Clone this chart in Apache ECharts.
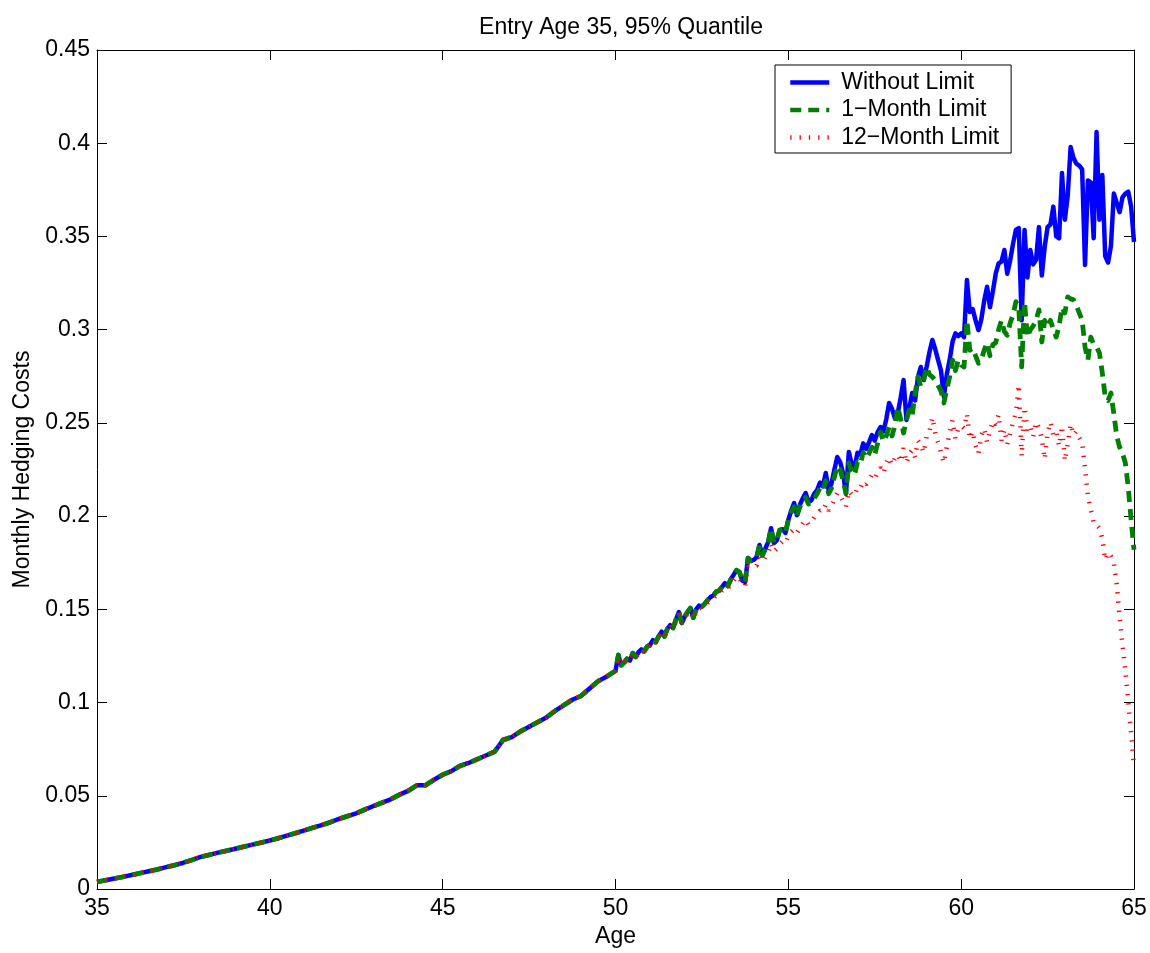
<!DOCTYPE html>
<html>
<head>
<meta charset="utf-8">
<script src="https://cdn.jsdelivr.net/npm/echarts@6/dist/echarts.min.js"></script>
<style>
  html, body { margin: 0; padding: 0; background: #fff; }
  #chart { width: 1150px; height: 953px; }
</style>
</head>
<body>
<div id="chart"></div>
<script>
// ---------------- DATA ----------------
const titleText = 'Entry Age 35, 95% Quantile';
const xAxisName = 'Age';
const yAxisName = 'Monthly Hedging Costs';
const seriesNames = ['Without Limit', '1\u2212Month Limit', '12\u2212Month Limit'];

// Common curve, quarterly, ages 35.00 .. 50.00 (all three series coincide)
const earlyStartAge = 35;
const earlyStep = 0.25;
const earlyValues = [
  0.0038, 0.0047, 0.0056, 0.0065, 0.0075, 0.0085, 0.0095, 0.0105,
  0.0117, 0.0128, 0.0141, 0.0156, 0.0172, 0.0183, 0.0195, 0.0205,
  0.0216, 0.0227, 0.0238, 0.0249, 0.0260, 0.0273, 0.0286, 0.0300,
  0.0314, 0.0329, 0.0343, 0.0358, 0.0376, 0.0391, 0.0406, 0.0426,
  0.0445, 0.0463, 0.0481, 0.0506, 0.0526, 0.0556, 0.0556, 0.0586,
  0.0613, 0.0632, 0.0660, 0.0676, 0.0696, 0.0716, 0.0736, 0.0800,
  0.0815, 0.0845, 0.0870, 0.0895, 0.0920, 0.0955, 0.0985, 0.1015,
  0.1035, 0.1075, 0.1115, 0.1140, 0.1170
];

// Monthly, ages 50+1/12 .. 55.0 (Without Limit and 1-Month Limit coincide)
const midStartAge = 50 + 1 / 12;
const monthStep = 1 / 12;
const midValues = [
  0.1255, 0.120, 0.1215, 0.1235, 0.1225, 0.1265, 0.1245, 0.127, 0.1285, 0.1275, 0.130, 0.131,
  0.1335, 0.1325, 0.1355, 0.138, 0.1355, 0.1395, 0.1415, 0.140, 0.1445, 0.1485, 0.1427, 0.146,
  0.1485, 0.1507, 0.1455, 0.150, 0.152, 0.1515, 0.153, 0.155, 0.1566, 0.1575, 0.1595, 0.160,
  0.162, 0.164, 0.1625, 0.166, 0.1685, 0.171, 0.170, 0.1655, 0.1647, 0.1775, 0.176, 0.1765,
  0.178, 0.1845, 0.179, 0.1825, 0.186, 0.1935, 0.1856, 0.187, 0.1925, 0.193, 0.191, 0.198
];

// Monthly, ages 55+1/12 .. 65.0
const lateStartAge = 55 + 1 / 12;
const blueLate = [
  0.203, 0.207, 0.2005, 0.206, 0.2095, 0.2124, 0.2076, 0.2085, 0.212, 0.214, 0.218, 0.216,
  0.2231, 0.214, 0.2175, 0.225, 0.2317, 0.229, 0.223, 0.212, 0.2344, 0.228, 0.226, 0.234,
  0.233, 0.239, 0.236, 0.2395, 0.2435, 0.2405, 0.245, 0.2478, 0.2455, 0.252, 0.2607, 0.2575,
  0.2525, 0.2553, 0.2635, 0.273, 0.2516, 0.258, 0.266, 0.262, 0.2745, 0.280, 0.273, 0.280,
  0.288, 0.2945, 0.2895, 0.2837, 0.278, 0.264, 0.276, 0.2837, 0.2935, 0.298, 0.2965, 0.298,
  0.296, 0.3266, 0.3095, 0.311, 0.305, 0.2998, 0.3055, 0.3155, 0.323, 0.312, 0.3205, 0.330,
  0.3355, 0.3365, 0.3427, 0.330, 0.337, 0.346, 0.3535, 0.3545, 0.305, 0.3535, 0.328, 0.3427,
  0.335, 0.3375, 0.355, 0.329, 0.3445, 0.355, 0.3565, 0.366, 0.350, 0.349, 0.384, 0.359,
  0.372, 0.398, 0.392, 0.389, 0.388, 0.386, 0.3347, 0.380, 0.379, 0.349, 0.406, 0.359,
  0.383, 0.3395, 0.336, 0.345, 0.373, 0.368, 0.363, 0.371, 0.373, 0.374, 0.366, 0.347
];
const greenLate = [
  0.202, 0.205, 0.200, 0.205, 0.208, 0.210, 0.2065, 0.207, 0.2095, 0.212, 0.215, 0.2135,
  0.219, 0.212, 0.215, 0.221, 0.227, 0.225, 0.219, 0.2124, 0.2285, 0.224, 0.222, 0.229,
  0.228, 0.234, 0.231, 0.2335, 0.237, 0.233, 0.239, 0.245, 0.240, 0.243, 0.2478, 0.243,
  0.2485, 0.2585, 0.252, 0.2446, 0.2516, 0.257, 0.254, 0.266, 0.2746, 0.2695, 0.273, 0.280,
  0.276, 0.2746, 0.273, 0.270, 0.267, 0.2607, 0.268, 0.2746, 0.2837, 0.278, 0.2837, 0.281,
  0.280, 0.305, 0.289, 0.290, 0.286, 0.282, 0.284, 0.289, 0.293, 0.286, 0.292, 0.293,
  0.300, 0.305, 0.299, 0.297, 0.3036, 0.308, 0.315, 0.312, 0.280, 0.315, 0.296, 0.300,
  0.302, 0.305, 0.3106, 0.2934, 0.305, 0.3015, 0.305, 0.300, 0.296, 0.302, 0.312, 0.309,
  0.3176, 0.3165, 0.316, 0.313, 0.309, 0.305, 0.2907, 0.2837, 0.296, 0.292, 0.2907, 0.2875,
  0.2768, 0.264, 0.262, 0.266, 0.255, 0.243, 0.237, 0.2338, 0.2285, 0.2156, 0.198, 0.182
];
// 12-Month Limit, monthly, ages 50+1/12 .. 65.0
const redLate = [
  0.1245, 0.1205, 0.121, 0.123, 0.1225, 0.1255, 0.124, 0.1265, 0.128, 0.127, 0.1295, 0.1305,
  0.133, 0.132, 0.135, 0.137, 0.135, 0.139, 0.1405, 0.1395, 0.1435, 0.147, 0.1425, 0.1455,
  0.1475, 0.149, 0.145, 0.149, 0.151, 0.1505, 0.152, 0.1535, 0.155, 0.156, 0.1575, 0.158,
  0.160, 0.1615, 0.161, 0.1635, 0.1655, 0.1675, 0.167, 0.1635, 0.1625, 0.173, 0.1725, 0.173,
  0.1735, 0.178, 0.1755, 0.178, 0.180, 0.1855, 0.181, 0.1825, 0.185, 0.1865, 0.1855, 0.189,
  0.1915, 0.193, 0.191, 0.1935, 0.196, 0.198, 0.1955, 0.197, 0.1995, 0.201, 0.203, 0.2025,
  0.2065, 0.203, 0.2055, 0.209, 0.2125, 0.211, 0.208, 0.205, 0.2135, 0.2115, 0.211, 0.2155,
  0.215, 0.2185, 0.217, 0.219, 0.222, 0.220, 0.2235, 0.226, 0.223, 0.2285, 0.2315, 0.2275,
  0.231, 0.233, 0.229, 0.2365, 0.2285, 0.2335, 0.2355, 0.2315, 0.2405, 0.2385, 0.234, 0.2425,
  0.2455, 0.253, 0.2445, 0.2395, 0.234, 0.2285, 0.237, 0.2445, 0.2515, 0.2415, 0.247, 0.2485,
  0.247, 0.255, 0.2415, 0.2455, 0.238, 0.2335, 0.2435, 0.247, 0.2395, 0.2455, 0.251, 0.249,
  0.2545, 0.2405, 0.2465, 0.2385, 0.2445, 0.2505, 0.255, 0.2705, 0.232, 0.2585, 0.246, 0.2485,
  0.2425, 0.2505, 0.2475, 0.2415, 0.2305, 0.2445, 0.2505, 0.2435, 0.2455, 0.2375, 0.2485, 0.2295,
  0.2385, 0.2495, 0.2435, 0.2455, 0.242, 0.2395, 0.2255, 0.211, 0.2035, 0.196, 0.1955, 0.1935,
  0.188, 0.1765, 0.1805, 0.1785, 0.1745, 0.1635, 0.146, 0.131, 0.117, 0.1005, 0.0835, 0.0655
];

// Axis ranges / ticks
const xMin = 35, xMax = 65, xInterval = 5;
const yMin = 0, yMax = 0.45, yInterval = 0.05;

// ---------------- BUILD ----------------
function toPairs(startAge, step, vals) {
  return vals.map((v, i) => [startAge + i * step, v]);
}
const early = toPairs(earlyStartAge, earlyStep, earlyValues);
const mid = toPairs(midStartAge, monthStep, midValues);
const blueData = early.concat(mid, toPairs(lateStartAge, monthStep, blueLate));
const greenData = early.concat(mid, toPairs(lateStartAge, monthStep, greenLate));
const redData = early.concat(toPairs(midStartAge, monthStep, redLate));

const FONT = "'Liberation Sans', Arial, Helvetica, sans-serif";
const FS = 23;

const tickStyle = { show: true, inside: true, length: 10, lineStyle: { color: '#000', width: 1 } };
const lineAx = { show: true, onZero: false, lineStyle: { color: '#000', width: 1 } };

const chart = echarts.init(document.getElementById('chart'), null, { renderer: 'canvas' });
chart.setOption({
  animation: false,
  backgroundColor: '#fff',
  title: {
    text: titleText,
    left: 616,
    top: 11,
    textAlign: 'center',
    textStyle: { fontFamily: FONT, fontSize: FS, fontWeight: 'normal', color: '#000' }
  },
  grid: { left: 97, right: 16, top: 50, bottom: 64, containLabel: false },
  legend: {
    left: 775,
    top: 65,
    orient: 'vertical',
    backgroundColor: '#fff',
    borderColor: '#000',
    borderWidth: 1,
    padding: [6, 12, 4, 13],
    itemGap: 4.5,
    itemWidth: 39,
    itemHeight: 14,
    itemStyle: { opacity: 0 },
    lineStyle: { width: 4.5 },
    textStyle: { fontFamily: FONT, fontSize: FS, color: '#000', lineHeight: 23, padding: [0, 0, 0, 7] },
    data: seriesNames
  },
  xAxis: [
    {
      type: 'value', position: 'bottom', min: xMin, max: xMax, interval: xInterval,
      axisLine: lineAx, axisTick: tickStyle, splitLine: { show: false },
      axisLabel: { fontFamily: FONT, fontSize: FS, color: '#000', margin: 8 },
      name: xAxisName, nameLocation: 'middle', nameGap: 35,
      nameTextStyle: { fontFamily: FONT, fontSize: FS, color: '#000' }
    },
    {
      type: 'value', position: 'top', min: xMin, max: xMax, interval: xInterval,
      axisLine: lineAx, axisTick: tickStyle, splitLine: { show: false },
      axisLabel: { show: false }
    }
  ],
  yAxis: [
    {
      type: 'value', position: 'left', min: yMin, max: yMax, interval: yInterval,
      axisLine: lineAx, axisTick: tickStyle, splitLine: { show: false },
      axisLabel: { fontFamily: FONT, fontSize: FS, color: '#000', margin: 7 },
      name: yAxisName, nameLocation: 'middle', nameGap: 63,
      nameTextStyle: { fontFamily: FONT, fontSize: FS, color: '#000' }
    },
    {
      type: 'value', position: 'right', min: yMin, max: yMax, interval: yInterval,
      axisLine: lineAx, axisTick: tickStyle, splitLine: { show: false },
      axisLabel: { show: false }
    }
  ],
  series: [
    {
      name: seriesNames[0], type: 'line', xAxisIndex: 0, yAxisIndex: 0,
      data: blueData, symbol: 'none', showSymbol: false, smooth: false,
      lineStyle: { color: '#0000ff', width: 4.5, type: 'solid', join: 'round', cap: 'butt' },
      itemStyle: { color: '#0000ff' }, z: 2
    },
    {
      name: seriesNames[1], type: 'line', xAxisIndex: 0, yAxisIndex: 0,
      data: greenData, symbol: 'none', showSymbol: false, smooth: false,
      lineStyle: { color: '#008000', width: 4.8, type: [11, 7], join: 'round', cap: 'butt' },
      itemStyle: { color: '#008000' }, z: 3
    },
    {
      name: seriesNames[2], type: 'line', xAxisIndex: 0, yAxisIndex: 0,
      data: redData, symbol: 'none', showSymbol: false, smooth: false,
      lineStyle: { color: '#ff0000', width: 4.5, type: [1.3, 8], join: 'bevel', cap: 'butt' },
      itemStyle: { color: '#ff0000' }, z: 4
    }
  ]
});
</script>
</body>
</html>
